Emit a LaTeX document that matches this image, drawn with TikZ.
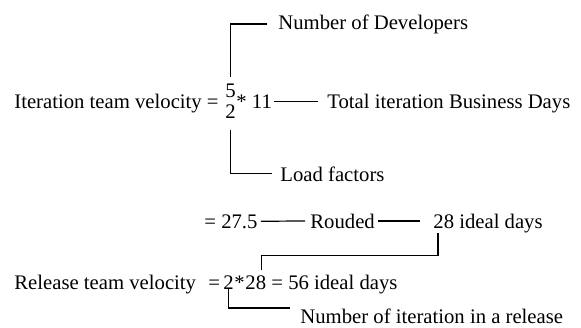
\documentclass[tikz,border=0pt]{standalone}
\usepackage{fontspec}
\setmainfont{Liberation Serif}
\usepackage{tikz}
\usetikzlibrary{positioning}

\begin{document}
\begin{tikzpicture}[
  x=0.5pt, y=-0.5pt,
  font=\fontsize{10.35}{12}\selectfont,
  txt/.style={inner sep=0pt, anchor=base west},
  link/.style={line width=0.6pt, color=black}
]
  \useasboundingbox (0,0) rectangle (581,327);
  % iteration velocity
  \node[txt] (itlbl) at (14,108) {Iteration team velocity =};
  \node[txt] (devnum) at (225,97) {5};
  \node[txt] (loadnum) at (225,118) {2};
  \node[txt] (days) at (236,108) {* 11};
  \node[txt] (devs) at (278,29) {Number of Developers};
  \node[txt] (total) at (327,108) {Total iteration Business Days};
  \node[txt] (loadlbl) at (280,181) {Load factors};
  \node[txt] (raw) at (204,228) {= 27.5};
  \node[txt] (round) at (310,228) {Rouded};
  \node[txt] (ideal) at (433,228) {28 ideal days};
  % release velocity
  \node[txt] (rellbl) at (14,289) {Release team velocity};
  \node[txt] (releq) at (208,289) {=};
  \node[txt] (iters) at (223,289) {2};
  \node[txt] (times) at (234,289) {*};
  \node[txt] (perit) at (245,289) {28};
  \node[txt] (result) at (271,289) {= 56 ideal days};
  \node[txt] (iterlbl) at (300,323) {Number of iteration in a release};
  \draw[link, shorten <=3pt, shorten >=5.5pt] (devnum.north) |- (devs.west);
  \draw[link, shorten <=6pt, shorten >=4pt] (loadnum.south) |- (loadlbl.west);
  \draw[link, shorten <=1pt, shorten >=4.5pt] (days.east) -- (days.east -| total.west);
  \draw[link, shorten <=1.5pt, shorten >=2.5pt] (raw.east) -- (round.west);
  \draw[link, shorten <=1.5pt, shorten >=6.5pt] (round.east) -- (round.east -| ideal.west);
  \draw[link, shorten >=2.5pt] ([xshift=2.5pt]ideal.south west) -- ++(0,22.5) -| ([xshift=3pt]perit.north);
  \draw[link, shorten >=5pt] (iters.south) |- (iterlbl.north west);
\end{tikzpicture}
\end{document}
